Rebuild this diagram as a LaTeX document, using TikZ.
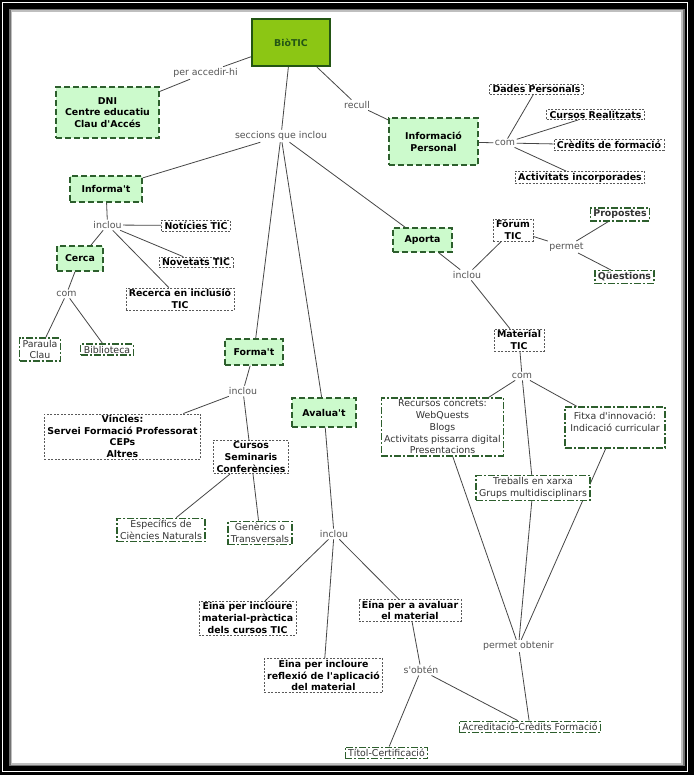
\documentclass[tikz,border=0pt]{standalone}
\usepackage{fontspec}
\setmainfont{DejaVu Sans}[Ligatures=TeXOff]
\usepackage{tikz}
\usetikzlibrary{positioning}
\definecolor{myleaf}{RGB}{140,198,20}
\definecolor{myforest}{RGB}{35,85,20}
\definecolor{mymint}{RGB}{204,250,204}
\definecolor{mypine}{RGB}{45,95,45}
\definecolor{mylink}{RGB}{70,70,70}
\definecolor{mygrey}{RGB}{85,85,85}
\pgfdeclarelayer{frame}
\pgfdeclarelayer{edges}
\pgfsetlayers{frame,edges,main}
\newcommand{\mapsize}{\fontsize{9.4}{11.7}\selectfont}
\tikzset{
  rootbox/.style={rectangle, draw=myforest, fill=myleaf, line width=2pt,
    font=\mapsize\bfseries, text=myforest, minimum width=78pt, minimum height=47pt},
  greenbox/.style={rectangle, draw=mypine, fill=mymint, dash pattern=on 6pt off 3pt,
    line width=1.4pt, font=\mapsize\bfseries, align=center, inner xsep=8pt, inner ysep=7pt},
  dotbox/.style={rectangle, draw=black!65, fill=white, dash pattern=on 2pt off 1.5pt,
    line width=0.6pt, font=\mapsize\bfseries, align=center, inner xsep=3pt, inner ysep=1.5pt},
  dashdotbox/.style={rectangle, draw=mypine, fill=white, text=black!80,
    dash pattern=on 7pt off 2pt on 2pt off 2pt, line width=1.3pt,
    font=\mapsize, align=center, inner xsep=3pt, inner ysep=2pt},
  linklabel/.style={font=\mapsize, text=mygrey, inner sep=1.5pt},
  line/.style={draw=mylink, line width=0.8pt}
}

\begin{document}
\begin{tikzpicture}[x=1pt, y=-1pt]
  \useasboundingbox (0,0) rectangle (694,775);

  % ── frame ──────────────────────────────────────────────────────────────
  \begin{pgfonlayer}{frame}
    \fill[black] (0,0) rectangle (694,775);
    \draw[white, line width=0.8pt] (2.5,2.5) rectangle (687.5,771.5);
    \fill[black!55] (9,9) rectangle (685,766);
    \fill[black!25] (10.5,10.5) rectangle (683,764.5);
    \fill[white] (12,12) rectangle (681,763);
  \end{pgfonlayer}

  % ── top ────────────────────────────────────────────────────────────────
  \node[rootbox] (biotic) at (291,42.5) {BiòTIC};
  \node[greenbox, minimum width=103pt, minimum height=51pt] (access) at (107.5,112.5)
    {DNI\\Centre educatiu\\Clau d'Accés};
  \node[greenbox, minimum width=89pt, minimum height=47pt] (infop) at (433.5,141.5)
    {Informació\\Personal};

  \node[linklabel] (peraccedir) at (205.5,73) {per accedir-hi};
  \node[linklabel] (recull) at (357,105) {recull};
  \node[linklabel] (seccions) at (281,136) {seccions que inclou};

  % Personal data
  \node[linklabel] (comdades) at (505,143) {com};
  \node[dotbox] (dades) at (536.5,89) {Dades Personals};
  \node[dotbox] (cursosr) at (595.5,114.5) {Cursos Realitzats};
  \node[dotbox] (credits) at (609,145) {Crèdits de formació};
  \node[dotbox] (activ) at (580,177.5) {Activitats incorporades};

  % ── Informa't ──────────────────────────────────────────────────────────
  \node[greenbox, minimum width=72pt, minimum height=26pt] (informat) at (106,189) {Informa't};
  \node[linklabel] (inclouinfo) at (107.5,225) {inclou};
  \node[dotbox] (noticies) at (196,225.5) {Notícies TIC};
  \node[dotbox] (novetats) at (196,262) {Novetats TIC};
  \node[dotbox] (recerca) at (180,299) {Recerca en inclusió\\TIC};
  \node[greenbox, minimum width=45pt, minimum height=25pt] (cerca) at (80,258.5) {Cerca};
  \node[linklabel] (comcerca) at (66.5,294) {com};
  \node[dashdotbox] (paraula) at (40,349.5) {Paraula\\Clau};
  \node[dashdotbox] (biblio) at (107,349.5) {Biblioteca};

  % ── Forma't ────────────────────────────────────────────────────────────
  \node[greenbox, minimum width=58pt, minimum height=26pt] (format) at (254,352) {Forma't};
  \node[linklabel] (inclouforma) at (243,391) {inclou};
  \node[dotbox] (vincles) at (122.5,436.5)
    {Vincles:\\Servei Formació Professorat\\CEPs\\Altres};
  \node[dotbox] (cursosb) at (251,457) {Cursos\\Seminaris\\Conferències};
  \node[dashdotbox] (especifics) at (161,530) {Específics de\\Ciències Naturals};
  \node[dashdotbox] (generics) at (260,533) {Genèrics o\\Transversals};

  % ── Avalua't ───────────────────────────────────────────────────────────
  \node[greenbox, minimum width=64pt, minimum height=29pt] (avaluat) at (324,412.5) {Avalua't};
  \node[linklabel] (inclouaval) at (334,534) {inclou};
  \node[dotbox] (einamat) at (247.5,618) {Eina per incloure\\material-pràctica\\dels cursos TIC};
  \node[dotbox] (einarefl) at (323.5,675.5)
    {Eina per incloure\\reflexió de l'aplicació\\del material};
  \node[dotbox] (einaaval) at (410,610.5) {Eina per a avaluar\\el material};
  \node[linklabel] (sobten) at (421,670) {s'obtén};
  \node[dashdotbox] (titol) at (386.5,753) {Títol-Certificació};
  \node[dashdotbox] (acred) at (530,727) {Acreditació-Crèdits Formació};

  % ── Aporta ─────────────────────────────────────────────────────────────
  \node[greenbox, minimum width=59pt, minimum height=24pt] (aporta) at (422.5,240) {Aporta};
  \node[linklabel] (inclouaporta) at (467,275) {inclou};
  \node[dotbox] (forum) at (513,230) {Fòrum\\TIC};
  \node[linklabel] (permet) at (566.5,247) {permet};
  \node[dashdotbox, font=\mapsize\bfseries] (propostes) at (620,214.5) {Propostes};
  \node[dashdotbox, font=\mapsize\bfseries] (questions) at (624.5,277) {Qüestions};
  \node[dotbox] (material) at (519,340) {Material\\TIC};
  \node[linklabel] (commaterial) at (522,376) {com};
  \node[dashdotbox] (recursos) at (442.5,427)
    {Recursos concrets:\\WebQuests\\Blogs\\Activitats pissarra digital\\Presentacions};
  \node[dashdotbox, minimum width=100pt, minimum height=41pt] (fitxa) at (615,427.5)
    {Fitxa d'innovació:\\Indicació curricular\\~};
  \node[dashdotbox] (treballs) at (533,488) {Treballs en xarxa\\Grups multidisciplinars};
  \node[linklabel] (permob) at (518.5,646) {permet obtenir};

  % ── connectors ─────────────────────────────────────────────────────────
  \begin{pgfonlayer}{edges}
    \draw[line] (biotic) -- (peraccedir) -- (access);
    \draw[line] (biotic) -- (recull) -- (infop);
    \draw[line] (biotic) -- (seccions);
    \foreach \t in {informat, format, avaluat, aporta}
      \draw[line] (seccions) -- (\t);

    \draw[line] (infop) -- (comdades);
    \foreach \t in {dades, cursosr, credits, activ}
      \draw[line] (comdades) -- (\t);

    \draw[line] (informat) -- (inclouinfo);
    \foreach \t in {noticies, cerca, novetats, recerca}
      \draw[line] (inclouinfo) -- (\t);
    \draw[line] (cerca) -- (comcerca);
    \foreach \t in {paraula, biblio}
      \draw[line] (comcerca) -- (\t);

    \draw[line] (format) -- (inclouforma);
    \foreach \t in {vincles, cursosb}
      \draw[line] (inclouforma) -- (\t);
    \foreach \t in {especifics, generics}
      \draw[line] (cursosb) -- (\t);

    \draw[line] (avaluat) -- (inclouaval);
    \foreach \t in {einamat, einarefl, einaaval}
      \draw[line] (inclouaval) -- (\t);
    \draw[line] (einaaval) -- (sobten);
    \foreach \t in {titol, acred}
      \draw[line] (sobten) -- (\t);

    \draw[line] (aporta) -- (inclouaporta);
    \foreach \t in {forum, material}
      \draw[line] (inclouaporta) -- (\t);
    \draw[line] (forum) -- (permet);
    \foreach \t in {propostes, questions}
      \draw[line] (permet) -- (\t);
    \draw[line] (material) -- (commaterial);
    \foreach \t in {recursos, fitxa, treballs}
      \draw[line] (commaterial) -- (\t);
    \foreach \t in {recursos, treballs, fitxa}
      \draw[line] (\t) -- (permob);
    \draw[line] (permob) -- (acred);
  \end{pgfonlayer}
\end{tikzpicture}
\end{document}
